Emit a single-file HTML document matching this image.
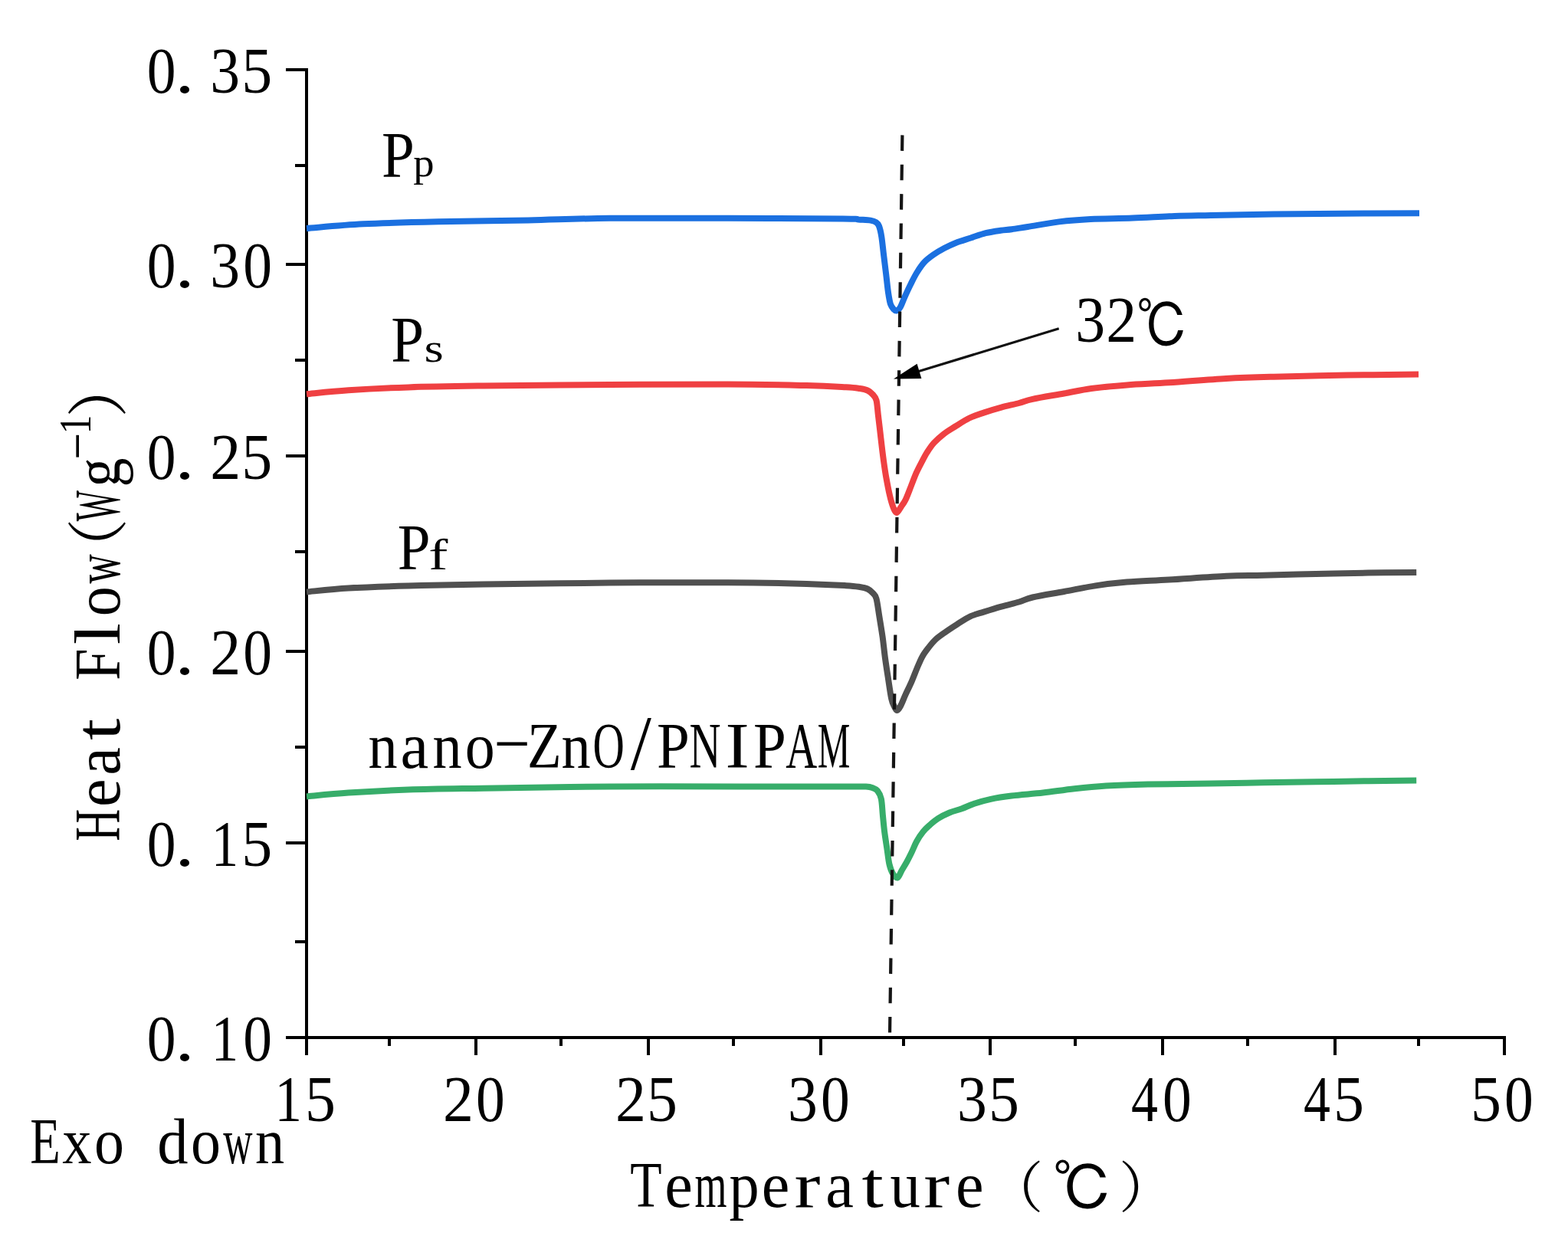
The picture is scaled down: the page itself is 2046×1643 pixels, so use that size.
<!DOCTYPE html>
<html><head><meta charset="utf-8"><title>DSC Heat Flow</title>
<style>html,body{margin:0;padding:0;background:#fff;}body{width:2046px;height:1643px;overflow:hidden;}svg{display:block;}text{font-family:"Liberation Serif", "Noto Serif CJK SC", serif;fill:#000;}</style>
</head><body>
<svg width="2046" height="1643" viewBox="0 0 2046 1643">
<rect width="2046" height="1643" fill="#fff"/>
<g stroke="#000" stroke-width="4" fill="none" shape-rendering="crispEdges">
<line x1="400" y1="89" x2="400" y2="1356"/>
<line x1="373" y1="1354" x2="1965" y2="1354"/>
<line x1="373" y1="91.0" x2="402" y2="91.0"/>
<line x1="373" y1="345.0" x2="402" y2="345.0"/>
<line x1="373" y1="595.0" x2="402" y2="595.0"/>
<line x1="373" y1="849.5" x2="402" y2="849.5"/>
<line x1="373" y1="1099.5" x2="402" y2="1099.5"/>
<line x1="373" y1="1354.0" x2="402" y2="1354.0"/>
<line x1="385" y1="216.0" x2="402" y2="216.0"/>
<line x1="385" y1="470.0" x2="402" y2="470.0"/>
<line x1="385" y1="720.0" x2="402" y2="720.0"/>
<line x1="385" y1="974.5" x2="402" y2="974.5"/>
<line x1="385" y1="1229.0" x2="402" y2="1229.0"/>
<line x1="400.0" y1="1352" x2="400.0" y2="1377"/>
<line x1="621.0" y1="1352" x2="621.0" y2="1377"/>
<line x1="846.0" y1="1352" x2="846.0" y2="1377"/>
<line x1="1071.0" y1="1352" x2="1071.0" y2="1377"/>
<line x1="1292.0" y1="1352" x2="1292.0" y2="1377"/>
<line x1="1517.0" y1="1352" x2="1517.0" y2="1377"/>
<line x1="1742.0" y1="1352" x2="1742.0" y2="1377"/>
<line x1="1963.0" y1="1352" x2="1963.0" y2="1377"/>
<line x1="508.3" y1="1352" x2="508.3" y2="1364.5"/>
<line x1="731.5" y1="1352" x2="731.5" y2="1364.5"/>
<line x1="956.5" y1="1352" x2="956.5" y2="1364.5"/>
<line x1="1179.4" y1="1352" x2="1179.4" y2="1364.5"/>
<line x1="1402.5" y1="1352" x2="1402.5" y2="1364.5"/>
<line x1="1627.5" y1="1352" x2="1627.5" y2="1364.5"/>
<line x1="1850.5" y1="1352" x2="1850.5" y2="1364.5"/>
</g>
<g fill="none" stroke-width="8" stroke-linejoin="round" stroke-linecap="butt">
<path d="M400.0 298.0 C412.3 297.1 445.3 293.8 474.0 292.3 C502.7 290.9 536.2 290.1 572.0 289.3 C607.8 288.5 651.7 288.1 689.0 287.4 C726.3 286.6 752.5 285.2 796.0 284.8 C839.5 284.4 899.3 284.7 950.0 284.8 C1000.7 284.9 1071.7 285.2 1100.0 285.5 C1128.3 285.8 1114.0 286.1 1120.0 286.5 C1126.0 286.9 1132.2 287.0 1136.0 287.6 C1139.8 288.2 1141.2 288.8 1143.0 290.0 C1144.8 291.2 1145.8 291.8 1147.0 295.0 C1148.2 298.2 1149.3 302.7 1150.3 309.1 C1151.3 315.5 1152.2 325.4 1153.2 333.5 C1154.2 341.6 1155.2 349.9 1156.2 358.0 C1157.2 366.1 1158.1 375.9 1159.1 382.4 C1160.1 388.9 1160.8 393.5 1162.0 397.0 C1163.2 400.5 1164.7 402.1 1166.0 403.5 C1167.3 404.9 1168.5 405.9 1170.0 405.5 C1171.5 405.1 1172.9 404.0 1174.7 401.0 C1176.5 398.0 1178.3 392.4 1180.6 387.3 C1182.9 382.2 1185.8 375.9 1188.4 370.7 C1191.0 365.5 1193.3 360.7 1196.2 356.0 C1199.1 351.3 1202.4 346.2 1206.0 342.3 C1209.6 338.4 1213.4 335.7 1217.8 332.6 C1222.2 329.5 1227.5 326.4 1232.4 323.8 C1237.3 321.2 1241.4 319.1 1247.1 316.9 C1252.8 314.7 1260.1 312.6 1266.6 310.5 C1273.1 308.4 1279.7 305.8 1286.2 304.2 C1292.7 302.6 1300.1 301.6 1305.7 300.8 C1311.3 300.0 1314.1 300.1 1320.0 299.3 C1325.9 298.5 1330.7 297.6 1341.0 296.0 C1351.3 294.4 1368.3 291.1 1382.0 289.4 C1395.7 287.7 1407.0 286.8 1423.0 286.0 C1439.0 285.2 1459.7 285.3 1478.0 284.6 C1496.3 283.9 1515.7 282.6 1532.7 282.0 C1549.7 281.4 1558.5 281.4 1580.0 281.0 C1601.5 280.6 1627.8 280.0 1662.0 279.6 C1696.2 279.2 1753.3 278.7 1785.0 278.5 C1816.7 278.3 1840.8 278.3 1852.0 278.3" stroke="#1b70e0"/>
<path d="M400.0 514.2 C409.1 513.4 432.6 510.8 454.7 509.3 C476.8 507.8 503.6 506.4 532.9 505.4 C562.2 504.4 586.8 504.1 630.6 503.5 C674.5 502.9 742.8 502.2 796.0 501.9 C849.2 501.5 907.2 501.2 950.0 501.4 C992.8 501.6 1026.9 502.5 1052.6 503.1 C1078.2 503.7 1092.3 504.6 1103.9 505.2 C1115.5 505.8 1117.3 506.3 1122.0 507.0 C1126.7 507.7 1129.2 508.2 1132.0 509.5 C1134.8 510.8 1137.1 512.9 1139.0 515.0 C1140.9 517.1 1142.3 517.9 1143.5 522.4 C1144.7 526.9 1144.9 533.9 1145.9 542.0 C1146.9 550.1 1148.2 561.4 1149.3 571.0 C1150.4 580.6 1151.6 591.2 1152.8 599.9 C1154.0 608.6 1154.9 615.3 1156.3 623.0 C1157.7 630.7 1159.4 639.7 1160.9 646.2 C1162.4 652.7 1164.0 658.2 1165.5 662.0 C1167.0 665.8 1168.5 669.1 1170.2 669.0 C1171.9 668.9 1174.0 664.0 1175.9 661.2 C1177.8 658.4 1179.6 656.4 1181.7 652.0 C1183.8 647.6 1186.4 640.4 1188.7 634.6 C1191.0 628.8 1193.3 622.4 1195.6 617.2 C1197.9 612.0 1200.2 607.8 1202.5 603.4 C1204.8 599.0 1206.8 594.9 1209.5 590.6 C1212.2 586.4 1215.0 582.0 1218.7 577.9 C1222.4 573.8 1226.9 569.9 1231.5 566.3 C1236.1 562.7 1240.9 560.0 1246.5 556.5 C1252.1 553.0 1258.8 548.5 1265.0 545.5 C1271.2 542.5 1276.6 540.9 1283.5 538.6 C1290.4 536.3 1298.9 533.7 1306.6 531.6 C1314.3 529.5 1323.0 527.8 1329.8 526.0 C1336.6 524.2 1337.6 522.9 1347.4 520.8 C1357.2 518.7 1375.6 515.8 1388.4 513.5 C1401.2 511.2 1410.3 508.9 1424.0 507.0 C1437.7 505.1 1453.6 503.7 1470.5 502.4 C1487.4 501.1 1503.7 500.7 1525.3 499.3 C1546.9 497.9 1577.2 495.3 1600.0 494.0 C1622.8 492.7 1635.7 492.4 1662.0 491.7 C1688.3 491.0 1726.5 490.1 1758.0 489.6 C1789.5 489.1 1835.5 488.7 1851.0 488.5" stroke="#ef4042"/>
<path d="M400.0 772.4 C409.1 771.6 432.6 768.8 454.7 767.5 C476.8 766.2 503.6 765.3 532.9 764.5 C562.2 763.7 586.8 763.2 630.6 762.6 C674.5 762.0 742.8 761.0 796.0 760.6 C849.2 760.2 907.2 760.0 950.0 760.2 C992.8 760.4 1026.9 761.2 1052.6 761.9 C1078.2 762.6 1092.3 763.5 1103.9 764.2 C1115.5 764.9 1117.3 765.3 1122.0 766.0 C1126.7 766.7 1129.2 767.2 1132.0 768.5 C1134.8 769.8 1137.1 771.9 1139.0 774.0 C1140.9 776.1 1142.2 776.5 1143.5 781.2 C1144.8 785.9 1145.7 793.7 1147.0 802.0 C1148.3 810.3 1150.2 821.4 1151.6 831.0 C1152.9 840.6 1153.9 851.2 1155.1 859.9 C1156.3 868.6 1157.2 874.3 1158.6 883.0 C1159.9 891.7 1161.8 905.5 1163.2 912.0 C1164.6 918.5 1165.8 919.5 1167.0 922.0 C1168.2 924.5 1169.2 927.1 1170.5 927.0 C1171.8 926.9 1173.1 925.0 1175.0 921.5 C1176.9 918.0 1179.2 911.7 1181.7 906.2 C1184.2 900.8 1187.3 894.6 1189.8 888.8 C1192.3 883.0 1194.5 876.9 1196.8 871.5 C1199.1 866.1 1201.2 860.8 1203.7 856.4 C1206.2 852.0 1208.9 848.6 1211.8 844.9 C1214.7 841.2 1217.2 837.9 1221.0 834.4 C1224.8 830.9 1230.3 827.3 1234.9 824.0 C1239.5 820.7 1243.6 818.1 1248.8 814.8 C1254.0 811.5 1260.4 807.1 1266.2 804.4 C1272.0 801.7 1276.8 800.7 1283.5 798.6 C1290.2 796.5 1298.9 793.8 1306.6 791.6 C1314.3 789.4 1323.0 787.5 1329.8 785.5 C1336.6 783.5 1337.6 781.8 1347.4 779.5 C1357.2 777.2 1374.7 774.5 1388.4 772.0 C1402.1 769.5 1415.8 766.5 1429.5 764.4 C1443.2 762.3 1454.5 760.9 1470.5 759.6 C1486.5 758.3 1503.7 757.8 1525.3 756.5 C1546.9 755.2 1579.5 752.8 1600.0 751.8 C1620.5 750.8 1628.9 751.2 1648.4 750.7 C1667.9 750.2 1694.1 749.5 1716.9 749.0 C1739.7 748.5 1763.4 748.0 1785.3 747.6 C1807.2 747.2 1837.7 747.0 1848.2 746.9" stroke="#505050"/>
<path d="M400.0 1039.4 C409.1 1038.6 432.6 1036.1 454.7 1034.6 C476.8 1033.1 503.6 1031.6 532.9 1030.6 C562.2 1029.6 586.8 1029.4 630.6 1028.7 C674.5 1028.0 739.9 1026.9 796.0 1026.5 C852.1 1026.1 915.7 1026.4 967.0 1026.4 C1018.3 1026.4 1076.7 1026.4 1103.9 1026.4 C1131.1 1026.4 1124.2 1026.3 1130.0 1026.6 C1135.8 1026.9 1136.5 1027.4 1139.0 1028.3 C1141.5 1029.2 1143.2 1029.7 1145.0 1032.0 C1146.8 1034.3 1148.6 1037.0 1149.8 1042.3 C1151.0 1047.6 1151.2 1056.6 1151.9 1063.8 C1152.6 1071.0 1153.2 1078.1 1154.1 1085.3 C1155.0 1092.5 1156.2 1099.7 1157.3 1106.8 C1158.4 1113.9 1159.2 1122.5 1160.5 1128.0 C1161.8 1133.5 1163.2 1137.1 1165.0 1140.0 C1166.8 1142.9 1169.0 1146.2 1171.0 1145.5 C1173.0 1144.8 1174.7 1139.2 1176.7 1135.8 C1178.7 1132.4 1180.9 1128.9 1183.1 1125.0 C1185.2 1121.1 1187.4 1116.7 1189.6 1112.2 C1191.8 1107.7 1193.5 1102.7 1196.0 1098.2 C1198.5 1093.7 1201.7 1088.9 1204.6 1085.3 C1207.5 1081.7 1210.0 1079.6 1213.2 1076.7 C1216.4 1073.8 1219.7 1070.8 1224.0 1068.1 C1228.3 1065.4 1233.8 1062.7 1239.0 1060.5 C1244.2 1058.3 1249.8 1057.2 1255.2 1055.2 C1260.6 1053.2 1265.0 1050.8 1271.3 1048.7 C1277.6 1046.6 1284.7 1044.5 1292.8 1042.8 C1300.9 1041.1 1308.6 1039.9 1320.0 1038.5 C1331.4 1037.1 1347.3 1036.1 1361.0 1034.6 C1374.7 1033.0 1388.4 1030.7 1402.1 1029.2 C1415.8 1027.7 1427.2 1026.5 1443.2 1025.5 C1459.2 1024.5 1475.1 1024.0 1497.9 1023.5 C1520.7 1023.0 1554.9 1023.0 1580.0 1022.6 C1605.1 1022.2 1625.6 1021.6 1648.4 1021.2 C1671.2 1020.8 1694.1 1020.6 1716.9 1020.3 C1739.7 1020.0 1763.4 1019.5 1785.3 1019.2 C1807.2 1018.9 1837.7 1018.6 1848.2 1018.5" stroke="#37ad6a"/>
</g>
<line x1="1177.4" y1="176.4" x2="1161" y2="1352" stroke="#151515" stroke-width="4.2" stroke-dasharray="20.5 17.86"/>
<line x1="1381.7" y1="428.8" x2="1195.7" y2="485.5" stroke="#111" stroke-width="3.2"/>
<polygon points="1166.0,494.5 1202.4,493.9 1196.6,474.7" fill="#000"/>
<g>
<text transform="translate(210.5 121.0) scale(0.889 1.000)" x="-21.0" font-size="85">0</text>
<text transform="translate(241.5 121.0) scale(1.200 1.000)" x="-11.0" font-size="85">.</text>
<text transform="translate(294.0 121.0) scale(0.914 1.000)" x="-21.5" font-size="85">3</text>
<text transform="translate(336.0 121.0) scale(0.941 1.000)" x="-22.0" font-size="85">5</text>
<text transform="translate(210.5 375.0) scale(0.889 1.000)" x="-21.0" font-size="85">0</text>
<text transform="translate(241.5 375.0) scale(1.200 1.000)" x="-11.0" font-size="85">.</text>
<text transform="translate(294.0 375.0) scale(0.914 1.000)" x="-21.5" font-size="85">3</text>
<text transform="translate(336.0 375.0) scale(0.889 1.000)" x="-21.0" font-size="85">0</text>
<text transform="translate(210.5 625.0) scale(0.889 1.000)" x="-21.0" font-size="85">0</text>
<text transform="translate(241.5 625.0) scale(1.200 1.000)" x="-11.0" font-size="85">.</text>
<text transform="translate(294.0 625.0) scale(0.941 1.000)" x="-21.0" font-size="85">2</text>
<text transform="translate(336.0 625.0) scale(0.941 1.000)" x="-22.0" font-size="85">5</text>
<text transform="translate(210.5 879.5) scale(0.889 1.000)" x="-21.0" font-size="85">0</text>
<text transform="translate(241.5 879.5) scale(1.200 1.000)" x="-11.0" font-size="85">.</text>
<text transform="translate(294.0 879.5) scale(0.941 1.000)" x="-21.0" font-size="85">2</text>
<text transform="translate(336.0 879.5) scale(0.889 1.000)" x="-21.0" font-size="85">0</text>
<text transform="translate(210.5 1129.5) scale(0.889 1.000)" x="-21.0" font-size="85">0</text>
<text transform="translate(241.5 1129.5) scale(1.200 1.000)" x="-11.0" font-size="85">.</text>
<text transform="translate(294.0 1129.5) scale(0.833 1.000)" x="-22.0" font-size="85">1</text>
<text transform="translate(336.0 1129.5) scale(0.941 1.000)" x="-22.0" font-size="85">5</text>
<text transform="translate(210.5 1384.0) scale(0.889 1.000)" x="-21.0" font-size="85">0</text>
<text transform="translate(241.5 1384.0) scale(1.200 1.000)" x="-11.0" font-size="85">.</text>
<text transform="translate(294.0 1384.0) scale(0.833 1.000)" x="-22.0" font-size="85">1</text>
<text transform="translate(336.0 1384.0) scale(0.889 1.000)" x="-21.0" font-size="85">0</text>
<text transform="translate(376.7 1463.3) scale(0.833 1.000)" x="-22.0" font-size="85">1</text>
<text transform="translate(418.6 1463.3) scale(0.941 1.000)" x="-22.0" font-size="85">5</text>
<text transform="translate(597.7 1463.3) scale(0.941 1.000)" x="-21.0" font-size="85">2</text>
<text transform="translate(639.6 1463.3) scale(0.889 1.000)" x="-21.0" font-size="85">0</text>
<text transform="translate(822.7 1463.3) scale(0.941 1.000)" x="-21.0" font-size="85">2</text>
<text transform="translate(864.6 1463.3) scale(0.941 1.000)" x="-22.0" font-size="85">5</text>
<text transform="translate(1047.7 1463.3) scale(0.914 1.000)" x="-21.5" font-size="85">3</text>
<text transform="translate(1089.6 1463.3) scale(0.889 1.000)" x="-21.0" font-size="85">0</text>
<text transform="translate(1268.7 1463.3) scale(0.914 1.000)" x="-21.5" font-size="85">3</text>
<text transform="translate(1310.6 1463.3) scale(0.941 1.000)" x="-22.0" font-size="85">5</text>
<text transform="translate(1493.7 1463.3) scale(0.821 1.000)" x="-21.5" font-size="85">4</text>
<text transform="translate(1535.6 1463.3) scale(0.889 1.000)" x="-21.0" font-size="85">0</text>
<text transform="translate(1718.7 1463.3) scale(0.821 1.000)" x="-21.5" font-size="85">4</text>
<text transform="translate(1760.6 1463.3) scale(0.941 1.000)" x="-22.0" font-size="85">5</text>
<text transform="translate(1939.7 1463.3) scale(0.941 1.000)" x="-22.0" font-size="85">5</text>
<text transform="translate(1981.6 1463.3) scale(0.889 1.000)" x="-21.0" font-size="85">0</text>
<text transform="translate(58.2 1517.7) scale(0.761 1.000)" x="-25.0" font-size="85">E</text>
<text transform="translate(100.2 1517.7) scale(0.900 1.000)" x="-21.0" font-size="85">x</text>
<text transform="translate(142.2 1517.7) scale(0.917 1.000)" x="-21.0" font-size="85">o</text>
<text transform="translate(226.2 1517.7) scale(0.947 1.000)" x="-22.0" font-size="85">d</text>
<text transform="translate(268.2 1517.7) scale(0.917 1.000)" x="-21.0" font-size="85">o</text>
<text transform="translate(310.2 1517.7) scale(0.623 1.000)" x="-30.5" font-size="85">w</text>
<text transform="translate(352.2 1517.7) scale(0.897 1.000)" x="-21.5" font-size="85">n</text>
<text transform="translate(843.4 1575.3) scale(0.796 1.000)" x="-26.5" font-size="85">T</text>
<text transform="translate(885.6 1575.3) scale(0.969 1.000)" x="-19.0" font-size="85">e</text>
<text transform="translate(927.8 1575.3) scale(0.635 1.000)" x="-33.5" font-size="85">m</text>
<text transform="translate(970.0 1575.3) scale(0.921 1.000)" x="-20.0" font-size="85">p</text>
<text transform="translate(1012.2 1575.3) scale(0.969 1.000)" x="-19.0" font-size="85">e</text>
<text transform="translate(1054.4 1575.3) scale(1.200 1.000)" x="-15.0" font-size="85">r</text>
<text transform="translate(1096.6 1575.3) scale(0.971 1.000)" x="-20.0" font-size="85">a</text>
<text transform="translate(1138.8 1575.3) scale(1.200 1.000)" x="-12.0" font-size="85">t</text>
<text transform="translate(1181.0 1575.3) scale(0.925 1.000)" x="-21.0" font-size="85">u</text>
<text transform="translate(1223.2 1575.3) scale(1.200 1.000)" x="-15.0" font-size="85">r</text>
<text transform="translate(1265.4 1575.3) scale(0.969 1.000)" x="-19.0" font-size="85">e</text>
<text x="1289.2" y="1575.3" font-size="72">（</text>
<text transform="translate(1410.6 1579.8) scale(0.990 1.000)" x="-37.6" font-size="80" style='font-family:"IPAGothic", "Noto Sans CJK JP", sans-serif'>℃</text>
<text x="1460.1" y="1575.3" font-size="72">）</text>
<text transform="translate(518.7 230.7) scale(0.905 1.000)" x="-23.0" font-size="85">P</text>
<text transform="translate(552.0 230.4) scale(1.050 1.000)" x="-12.2" font-size="52">p</text>
<text transform="translate(531.0 472.4) scale(0.905 1.000)" x="-23.0" font-size="85">P</text>
<text transform="translate(566.5 472.4) scale(1.250 1.000)" x="-10.4" font-size="52">s</text>
<text transform="translate(539.6 743.0) scale(0.905 1.000)" x="-23.0" font-size="85">P</text>
<text transform="translate(572.9 743.0) scale(1.300 1.000)" x="-10.6" font-size="58">f</text>
<text transform="translate(499.9 1001.8) scale(0.897 1.000)" x="-21.5" font-size="85">n</text>
<text transform="translate(541.9 1001.8) scale(0.971 1.000)" x="-20.0" font-size="85">a</text>
<text transform="translate(583.9 1001.8) scale(0.897 1.000)" x="-21.5" font-size="85">n</text>
<text transform="translate(625.9 1001.8) scale(0.917 1.000)" x="-21.0" font-size="85">o</text>
<text transform="translate(667.9 984.8) scale(1.773 0.700)" x="-14.0" font-size="85">-</text>
<text transform="translate(709.9 1001.8) scale(0.860 1.000)" x="-25.5" font-size="85">Z</text>
<text transform="translate(751.9 1001.8) scale(0.897 1.000)" x="-21.5" font-size="85">n</text>
<text transform="translate(793.9 1001.8) scale(0.673 1.000)" x="-30.5" font-size="85">O</text>
<text transform="translate(835.9 1003.8) scale(1.150 1.200)" x="-11.5" font-size="85">/</text>
<text transform="translate(877.9 1001.8) scale(0.905 1.000)" x="-23.0" font-size="85">P</text>
<text transform="translate(919.9 1001.8) scale(0.667 1.000)" x="-30.5" font-size="85">N</text>
<text transform="translate(961.9 1001.8) scale(1.100 1.000)" x="-14.0" font-size="85">I</text>
<text transform="translate(1003.9 1001.8) scale(0.905 1.000)" x="-23.0" font-size="85">P</text>
<text transform="translate(1045.9 1001.8) scale(0.667 1.000)" x="-31.0" font-size="85">A</text>
<text transform="translate(1087.9 1001.8) scale(0.563 1.000)" x="-37.5" font-size="85">M</text>
<text transform="translate(1423.0 446.3) scale(0.914 1.000)" x="-21.5" font-size="85">3</text>
<text transform="translate(1462.9 446.3) scale(0.941 1.000)" x="-21.0" font-size="85">2</text>
<text transform="translate(1515.0 454.2) scale(0.870 1.000)" x="-37.0" font-size="78.7" style='font-family:"IPAGothic", "Noto Sans CJK JP", sans-serif'>℃</text>
</g>
<g transform="translate(156 1097.7) rotate(-90)">
<text transform="translate(20.8 0.0) scale(0.684 1.000)" x="-30.5" font-size="85">H</text>
<text transform="translate(63.0 0.0) scale(0.969 1.000)" x="-19.0" font-size="85">e</text>
<text transform="translate(105.3 0.0) scale(0.971 1.000)" x="-20.0" font-size="85">a</text>
<text transform="translate(146.2 0.0) scale(1.200 1.000)" x="-12.0" font-size="85">t</text>
<text transform="translate(230.0 0.0) scale(0.881 1.000)" x="-23.0" font-size="85">F</text>
<text transform="translate(270.9 0.0) scale(1.200 1.000)" x="-12.0" font-size="85">l</text>
<text transform="translate(312.8 0.0) scale(0.917 1.000)" x="-21.0" font-size="85">o</text>
<text transform="translate(355.2 0.0) scale(0.623 1.000)" x="-30.5" font-size="85">w</text>
<text x="341.1" y="0.0" font-size="80">（</text>
<text transform="translate(437.5 0.0) scale(0.500 1.000)" x="-40.0" font-size="85">W</text>
<text transform="translate(482.2 0.0) scale(0.892 1.000)" x="-22.5" font-size="85">g</text>
<text transform="translate(515.2 -43.0) scale(1.850 0.800)" x="-9.9" font-size="60">-</text>
<text transform="translate(544.2 -38.0) scale(0.833 1.000)" x="-15.5" font-size="60">1</text>
<text x="552.6" y="0.0" font-size="80">）</text>
</g>
</svg>
</body></html>
